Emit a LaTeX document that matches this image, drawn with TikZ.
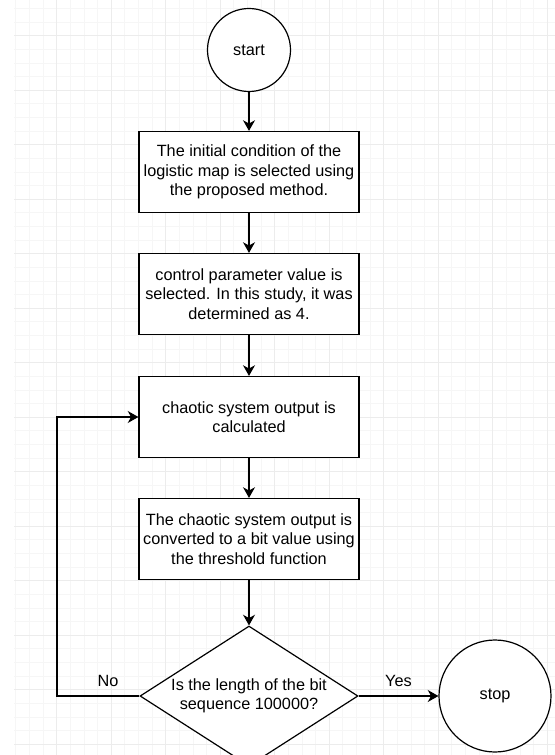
\documentclass[tikz,border=0pt]{standalone}
\usepackage{fontspec}
\setmainfont{Liberation Sans}
\usepackage{tikz}
\usetikzlibrary{arrows.meta}
\usetikzlibrary{shapes.geometric}

\begin{document}
\begin{tikzpicture}[x=0.75pt,y=-0.75pt,
    every node/.style={font=\fontsize{12.2}{14.6}\selectfont},
    etape/.style={draw,line width=0.9pt,fill=white,minimum width=165pt,minimum height=60.75pt,align=center,inner sep=0pt},
    rond/.style={draw,circle,line width=0.9pt,fill=white,inner sep=0pt},
    test/.style={draw,diamond,line width=0.9pt,fill=white,minimum width=163.5pt,minimum height=105pt,inner sep=0pt},
    fleche/.style={line width=0.9pt,-{Stealth[length=8pt,width=9pt,inset=2.5pt]}}]
    % fond quadrillé
    \useasboundingbox (0,0) rectangle (555,755);
\begin{scope}[line width=0.6pt]
    \clip (14,0) rectangle (555,755);
    \foreach \i in {0,...,39} \draw[gray!7] ({15.8+13.625*\i},0) -- ({15.8+13.625*\i},755);
    \foreach \j in {0,...,55} \draw[gray!7] (14,{8.45+13.625*\j}) -- (555,{8.45+13.625*\j});
    \foreach \i in {0,...,9} \draw[gray!15] ({56.7+54.5*\i},0) -- ({56.7+54.5*\i},755);
    \foreach \j in {0,...,13} \draw[gray!15] (14,{35.7+54.5*\j}) -- (555,{35.7+54.5*\j});
\end{scope}
    % les étapes
    \node[rond,minimum size=62.25pt] (start) at (249,50) {start};
    \node[etape] (init) at (249,172) {The initial condition of the\\logistic map is selected using\\the proposed method.};
    \node[etape] (param) at (249,294) {control parameter value is\\selected. In this study, it was\\determined as 4.};
    \node[etape] (calc) at (249,417) {chaotic system output is\\calculated};
    \node[etape] (conv) at (249,539) {The chaotic system output is\\converted to a bit value using\\the threshold function};
    \node[test] (dec) at (249,696) {};
    \node[align=center] (question) at (dec) {Is the length of the bit\\sequence 100000?};
    \node[rond,minimum size=84pt] (stop) at (495,696) {stop};
    \coordinate (back) at (57,696);
    % flèches
    \draw[fleche] (start) -- (init);
    \draw[fleche] (init) -- (param);
    \draw[fleche] (param) -- (calc);
    \draw[fleche] (calc) -- (conv);
    \draw[fleche] (conv) -- (dec.north);
    \draw[fleche] (dec.east) -- (stop.west) node[midway,above=3pt] {Yes};
    \draw[fleche] (dec.west) -- (back) node[pos=0.38,above=3pt] {No} |- (calc.west);
\end{tikzpicture}
\end{document}
